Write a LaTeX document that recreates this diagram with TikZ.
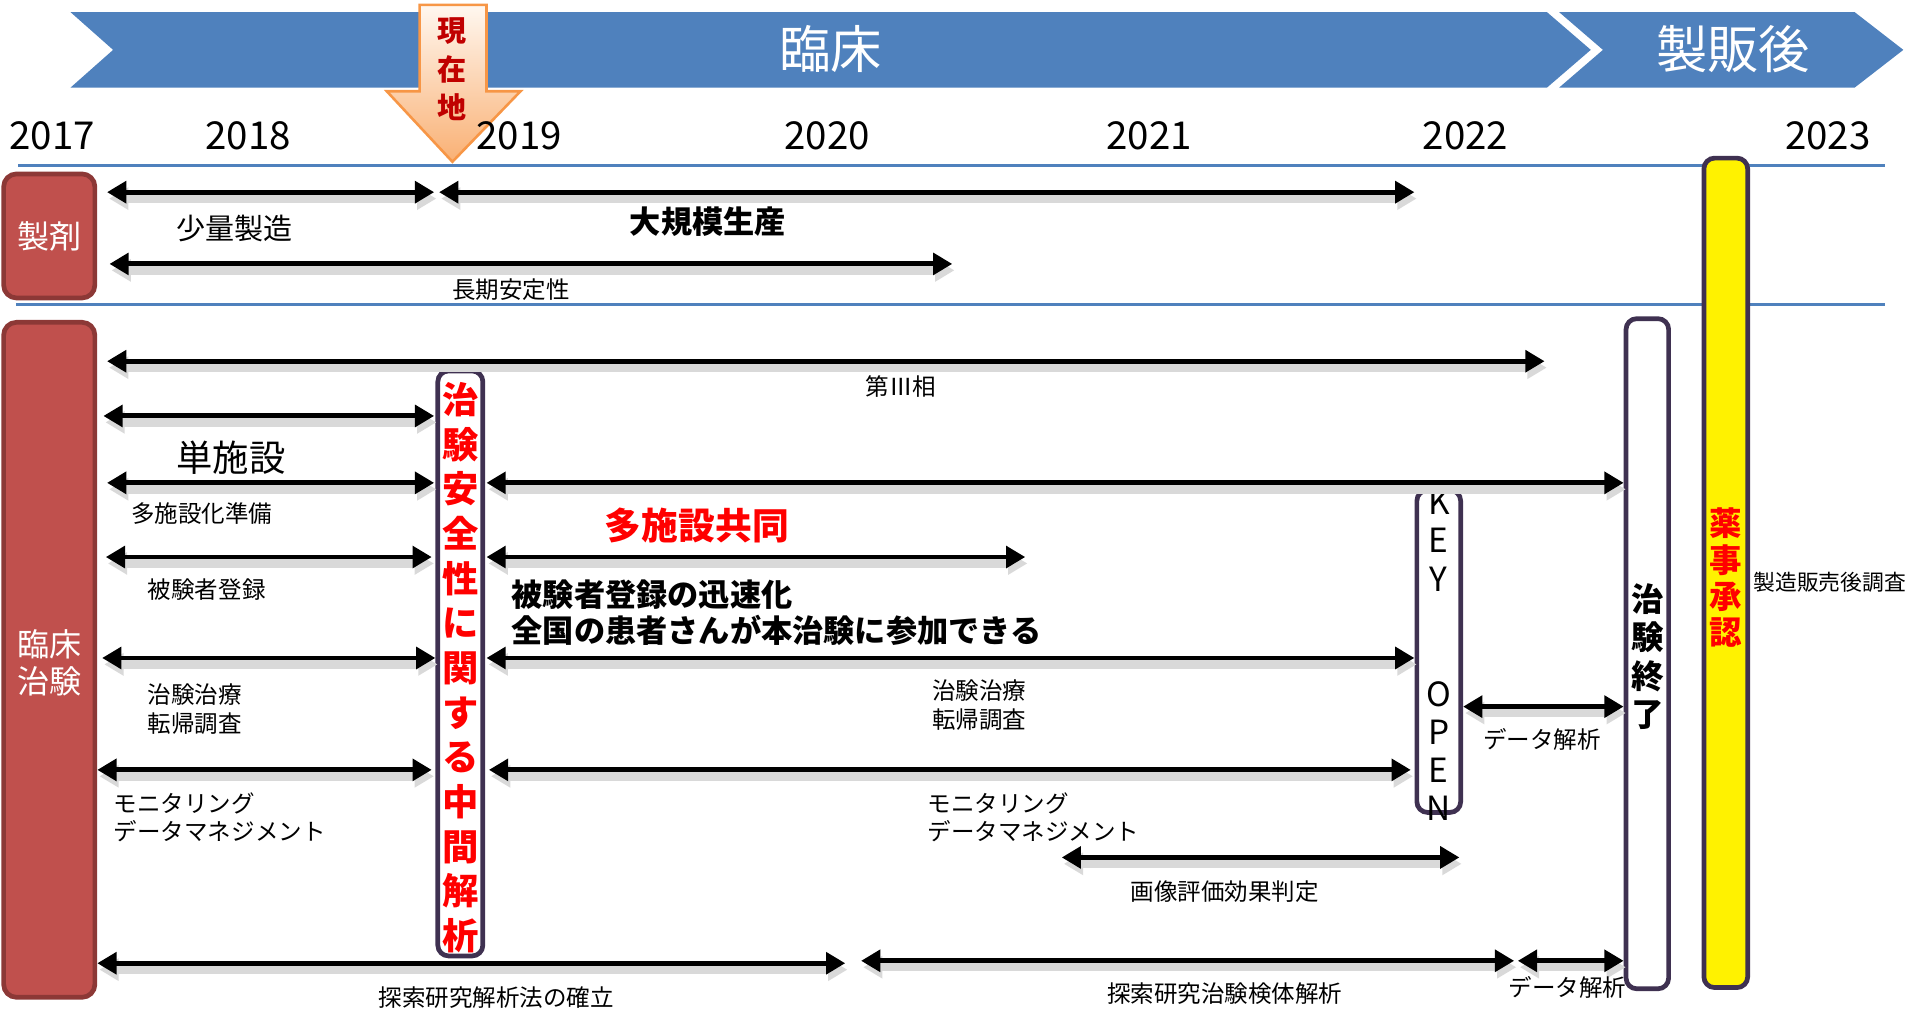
\documentclass[tikz,border=0pt]{standalone}
\usepackage{fontspec}
\setmainfont{Noto Sans CJK JP}
\usetikzlibrary{arrows.meta}

\definecolor{banner}{HTML}{4F81BD}
\definecolor{boxred}{HTML}{C0504D}
\definecolor{boxredline}{HTML}{8C3836}
\definecolor{frame}{HTML}{3F3151}
\definecolor{darkred}{HTML}{C00000}
\definecolor{arrorange}{HTML}{F79646}

\tikzset{
  arr/.style={line width=1.15pt,{Triangle[length=4.5pt,width=5pt]}-{Triangle[length=4.5pt,width=5pt]},
    preaction={draw=black!15,line width=2pt,transform canvas={shift={(0.5pt,-1.5pt)}}}},
  lbl/.style={font=\fontsize{5.5pt}{6.7pt}\selectfont,inner sep=0pt,align=center},
  lbll/.style={lbl,align=left,anchor=west},
  mid/.style={font=\fontsize{6.8pt}{8pt}\selectfont,inner sep=0pt},
  big/.style={font=\fontsize{8.5pt}{10pt}\selectfont,inner sep=0pt},
  boldlbl/.style={font=\fontsize{7.3pt}{8.5pt}\selectfont\bfseries,inner sep=0pt},
  head/.style={font=\fontsize{12pt}{14pt}\selectfont,text=white,inner sep=0pt},
  year/.style={font=\fontsize{9pt}{10pt}\selectfont,inner sep=0pt},
  redbox/.style={fill=boxred,draw=boxredline,line width=1.1pt,rounded corners=3pt},
  vbox/.style={fill=white,draw=frame,line width=1.1pt,rounded corners=2.5pt},
  tate/.style={inner sep=0pt,align=center}
}

\begin{document}
\begin{tikzpicture}[x=0.1mm,y=-0.1mm]
    \useasboundingbox (0,0) rectangle (1568,830);

    % Faixa superior
    \fill[banner] (58,10) -- (1272,10) -- (1308,41) -- (1272,72) -- (58,72) -- (93,41) -- cycle;
    \fill[banner] (1282,10) -- (1525,10) -- (1565,41) -- (1525,72) -- (1282,72) -- (1318,41) -- cycle;
    \node[head] (rinsho) at (683,40) {臨床};
    \node[head] (seihan) at (1425,40) {製販後};

    % Seta "現在地"
    \draw[top color=orange!6,bottom color=arrorange!75,draw=arrorange,line width=0.6pt]
        (345,4) -- (400,4) -- (400,75) -- (428,75) -- (372,133) -- (318,75) -- (345,75) -- cycle;
    \node[tate,font=\fontsize{6.8pt}{9pt}\selectfont\bfseries,text=darkred] (genzai) at (372,57) {現\\在\\地};

    % Anos
    \foreach \yr/\xx in {2017/43,2018/204,2019/427,2020/680,2021/945,2022/1205,2023/1503}
        \node[year] (y\yr) at (\xx,112) {\yr};

    % Linhas de separacao
    \draw[banner,line width=0.7pt] (15,136) -- (1550,136);
    \draw[banner,line width=0.7pt] (13,250) -- (1550,250);

    % Caixas da esquerda
    \draw[redbox] (3,143) rectangle (78,245);
    \node[tate,font=\fontsize{7.5pt}{8.5pt}\selectfont,text=white] (seizai) at (40.5,194) {製剤};
    \draw[redbox] (3,265) rectangle (78,820);
    \node[tate,font=\fontsize{7.5pt}{8.5pt}\selectfont,text=white] (chiken) at (40.5,545) {臨床\\治験};

    % Caixas verticais
    \draw[vbox] (360,305) rectangle (397,786);
    \node[tate,font=\fontsize{8.5pt}{10.45pt}\selectfont\bfseries,text=red] (chukan) at (378.5,549)
        {治\\験\\安\\全\\性\\に\\関\\す\\る\\中\\間\\解\\析};
    \draw[vbox] (1165,403) rectangle (1201,668);
    \node[tate,font=\fontsize{7.8pt}{8.96pt}\selectfont] (keyopen) at (1183,539)
        {K\\E\\Y\\[17.9pt]O\\P\\E\\N};
    \draw[vbox] (1337,262) rectangle (1372,813);
    \node[tate,font=\fontsize{7.6pt}{9pt}\selectfont\bfseries] (shuryo) at (1355,540) {治\\験\\終\\了};
    \draw[vbox,fill=yellow] (1401,130) rectangle (1437,812);
    \node[tate,font=\fontsize{7.6pt}{8.5pt}\selectfont\bfseries,text=red] (shonin) at (1419,475) {薬\\事\\承\\認};

    % Setas
    \foreach \n/\xa/\xb/\yy in {sA/88/357/158, sB/361/1163/158, lA/90/783/217,
        p3/88/1270/297, t1/85/357/342, t2/88/357/397, m2/400/1335/397,
        t3/87/355/458, m3/400/843/458, t4/84/358/541, m4/400/1163/541,
        t5/80/355/633, m5/402/1160/633, da/1203/1335/581, ga/873/1200/705,
        e1/80/695/792, e2/708/1245/790, e3/1248/1335/790} {
        \coordinate (\n a) at (\xa,\yy);
        \coordinate (\n b) at (\xb,\yy);
        \draw[arr] (\n a) -- (\n b);
    }

    % Legendas
    \node[mid] (shoryo) at (193,188) {少量製造};
    \node[boldlbl] (daikibo) at (582,182) {大規模生産};
    \node[lbl] (choki) at (420,238) {長期安定性};
    \node[lbl] (dai3) at (741,318) {第Ⅲ相};
    \node[big] (tanshi) at (190,376) {単施設};
    \node[lbl] (junbi) at (166,422) {多施設化準備};
    \node[big,font=\fontsize{8.6pt}{10pt}\selectfont\bfseries,text=red] (tashi) at (573,432) {多施設共同};
    \node[lbl] (toroku) at (170,485) {被験者登録};
    \node[boldlbl,align=left,anchor=west] (jinsoku) at (420,504)
        {被験者登録の迅速化\\全国の患者さんが本治験に参加できる};
    \node[lbl] (chiryo1) at (160,583) {治験治療\\転帰調査};
    \node[lbl] (chiryo2) at (805,580) {治験治療\\転帰調査};
    \node[lbll] (moni1) at (93,672) {モニタリング\\データマネジメント};
    \node[lbll] (moni2) at (762,672) {モニタリング\\データマネジメント};
    \node[lbl] (kaiseki1) at (1268,608) {データ解析};
    \node[lbl] (gazo) at (1007,733) {画像評価効果判定};
    \node[lbl] (tansaku1) at (408,820) {探索研究解析法の確立};
    \node[lbl] (tansaku2) at (1007,817) {探索研究治験検体解析};
    \node[lbl] (kaiseki2) at (1289,812) {データ解析};
    \node[lbll,font=\fontsize{5.1pt}{6pt}\selectfont] (chosa) at (1441,479) {製造販売後調査};
\end{tikzpicture}
\end{document}
